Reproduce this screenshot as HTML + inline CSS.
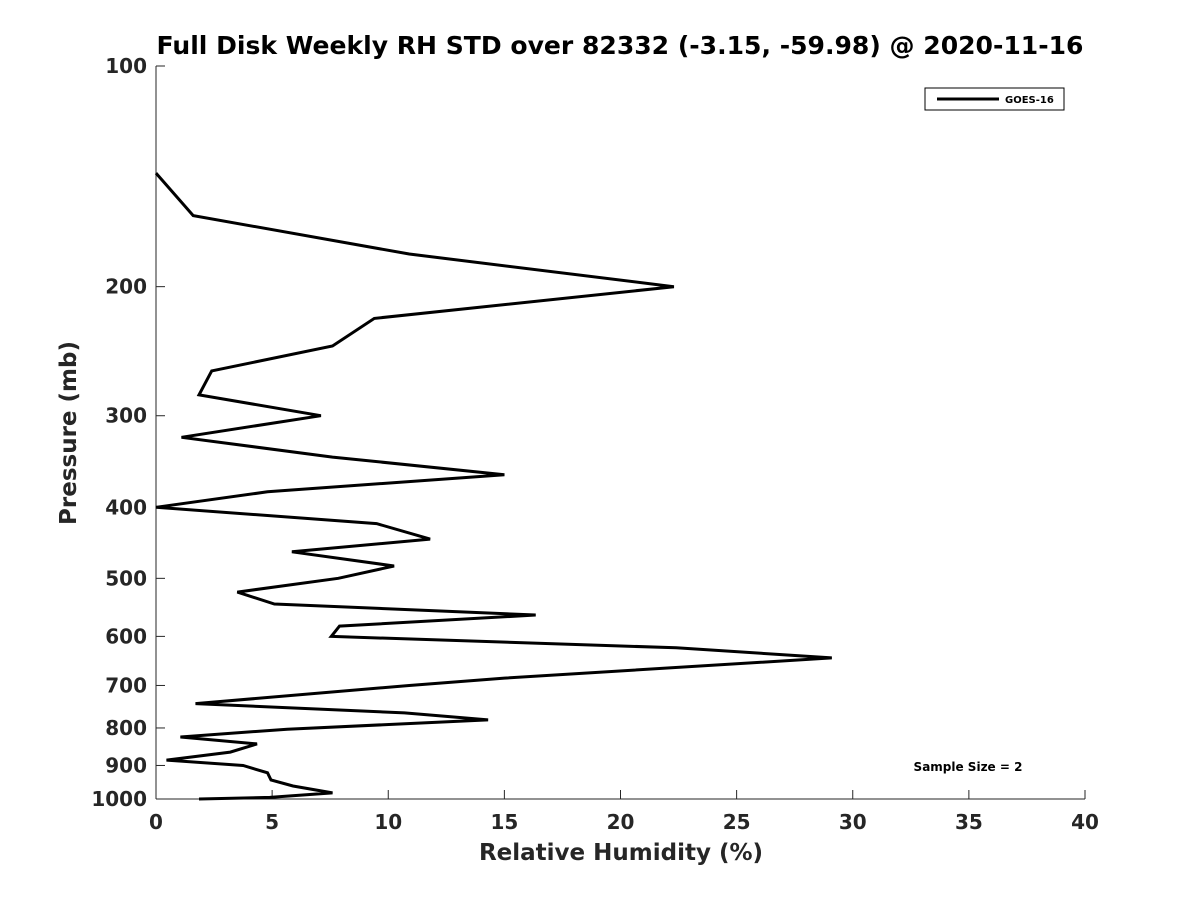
<!DOCTYPE html>
<html><head><meta charset="utf-8"><style>
html,body{margin:0;padding:0;background:#fff;}
svg text{font-family:"DejaVu Sans","Liberation Sans",sans-serif;fill:#262626;}
svg text.blk{fill:#000;}
</style></head><body>
<svg id="chart" width="1200" height="900" xmlns="http://www.w3.org/2000/svg">
<rect width="1200" height="900" fill="#fff"/>
<text class="blk" x="620" y="54" text-anchor="middle" font-size="25" font-weight="bold" textLength="927" lengthAdjust="spacingAndGlyphs">Full Disk Weekly RH STD over 82332 (-3.15, -59.98) @ 2020-11-16</text>
<g id="axes"></g>
<text x="621" y="860" text-anchor="middle" font-size="23" font-weight="bold">Relative Humidity (%)</text>
<text transform="translate(76,433) rotate(-90)" text-anchor="middle" font-size="23" font-weight="bold">Pressure (mb)</text>
<g>
<rect x="925" y="88" width="139" height="22" fill="#fff" stroke="#000" stroke-width="1"/>
<line x1="937" y1="99" x2="999" y2="99" stroke="#000" stroke-width="3"/>
<text class="blk" x="1005" y="103" font-size="10" font-weight="bold">GOES-16</text>
</g>
<text class="blk" x="968" y="771" text-anchor="middle" font-size="12" font-weight="bold">Sample Size = 2</text>
</svg>
<script>
const pressures = [140,160,180.5,200,221,241,260.6,281,300,321,341.6,361,381,400,421,442,460,481,500,522,542,561,581,600,622,642,684,700,741,763,780,803,823,841,863,885,900,921,942,960,981,995,1000];
const rhStd = [0,1.6,10.9,22.3,9.4,7.6,2.4,1.85,7.1,1.1,7.6,15.0,4.8,0,9.5,11.8,5.85,10.25,7.85,3.5,5.1,16.35,7.9,7.55,22.4,29.1,15.0,10.9,1.7,10.7,14.3,5.65,1.05,4.35,3.2,0.45,3.75,4.8,4.95,5.9,7.6,4.9,1.85];
const xTicks = [0,5,10,15,20,25,30,35,40];
const yTicks = [100,200,300,400,500,600,700,800,900,1000];

const X0=156,X1=1085,Y0=66,Y1=799;
function xs(v){return X0+(v-0)/(40-0)*(X1-X0);}
function ys(p){return Y0+(Math.log10(p)-2)/(1)*(Y1-Y0);}
const NS="http://www.w3.org/2000/svg";
const svg=document.getElementById('chart');
const axes=document.getElementById('axes');
function mk(tag,attrs,parent){const e=document.createElementNS(NS,tag);for(const k in attrs)e.setAttribute(k,attrs[k]);(parent||svg).appendChild(e);return e;}
const xa=mk('line',{x1:X0,y1:Y1,x2:X1,y2:Y1,stroke:'#262626','stroke-width':1},axes);


const ya=mk('line',{x1:X0,y1:Y0,x2:X0,y2:Y1,stroke:'#262626','stroke-width':1},axes);


xTicks.forEach(t=>{
  const x=xs(t);
  mk('line',{x1:x,y1:Y1,x2:x,y2:Y1-9,stroke:'#262626','stroke-width':1},axes);
  const tx=mk('text',{x:x,y:Y1+30,'text-anchor':'middle','font-size':20,'font-weight':'bold'},axes);
  tx.textContent=t;
  
  
});
yTicks.forEach(t=>{
  const y=ys(t);
  mk('line',{x1:X0,y1:y,x2:X0+9,y2:y,stroke:'#262626','stroke-width':1},axes);
  const tx=mk('text',{x:X0-9,y:y+7,'text-anchor':'end','font-size':20,'font-weight':'bold'},axes);
  tx.textContent=t;
  
  
});
const pts=pressures.map((p,i)=>xs(rhStd[i]).toFixed(1)+','+ys(p).toFixed(1)).join(' ');
const line=mk('polyline',{points:pts,fill:'none',stroke:'#000','stroke-width':3,'stroke-linejoin':'miter'});


</script>
</body></html>
